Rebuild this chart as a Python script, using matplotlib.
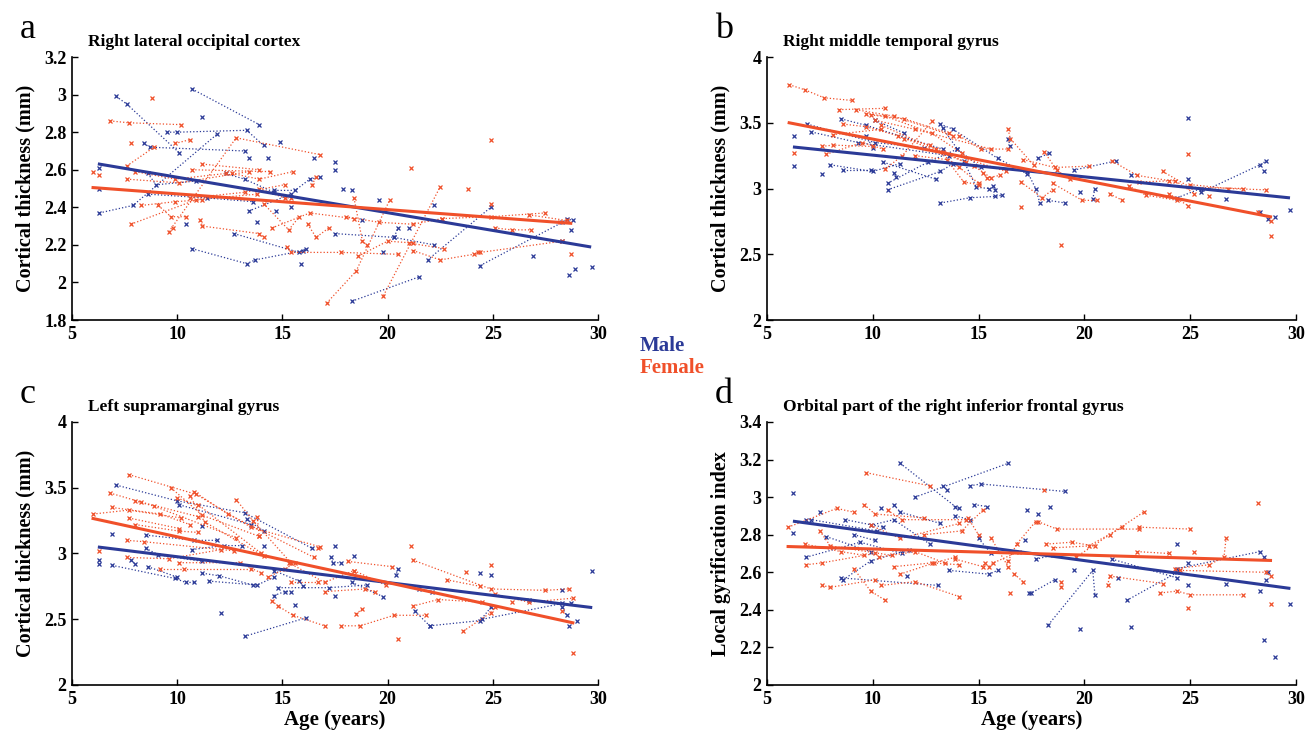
import matplotlib.pyplot as plt

plt.rcParams['font.family'] = ['Liberation Serif', 'DejaVu Serif']
plt.rcParams['font.weight'] = 'bold'

blue = '#2B3A97'
orange = '#F0502A'

# subject trajectories: each inner list is one subject, (age, value) pairs
a_male = [
    [(7.1, 2.99), (7.6, 2.95), (10.1, 2.69)],
    [(10.7, 3.03), (13.9, 2.84)],
    [(9.5, 2.80), (10.0, 2.80), (13.3, 2.81), (14.1, 2.73)],
    [(6.3, 2.37), (7.9, 2.41), (11.9, 2.79)],
    [(8.4, 2.74), (8.7, 2.72), (13.2, 2.70)],
    [(6.3, 2.61)], [(6.3, 2.50)],
    [(10.7, 2.18), (13.3, 2.10), (13.7, 2.12), (16.0, 2.17)],
    [(18.3, 1.90), (21.5, 2.03)],
    [(21.9, 2.12), (24.9, 2.40)],
    [(24.4, 2.09), (28.3, 2.32)],
    [(12.7, 2.26), (15.8, 2.16), (16.1, 2.18)],
    [(17.5, 2.26), (20.3, 2.24), (20.5, 2.29)],
    [(17.5, 2.64)], [(17.5, 2.60)], [(11.2, 2.88)],
    [(13.4, 2.66)], [(14.3, 2.66)], [(14.9, 2.75)], [(16.5, 2.66)],
    [(8.6, 2.58), (9.0, 2.52), (10.9, 2.54)],
    [(8.6, 2.47), (11.4, 2.45), (13.6, 2.43)],
    [(10.4, 2.31)],
    [(13.4, 2.38), (15.4, 2.47)],
    [(14.7, 2.38)], [(15.4, 2.40)], [(13.8, 2.32)], [(15.9, 2.10)],
    [(14.6, 2.49), (15.6, 2.49), (16.3, 2.55), (16.8, 2.56)],
    [(12.3, 2.58), (13.2, 2.55), (14.6, 2.48)],
    [(17.9, 2.50)], [(18.3, 2.49)], [(18.8, 2.33)], [(19.6, 2.44)],
    [(22.2, 2.41)], [(21.0, 2.29)], [(19.8, 2.16)], [(26.9, 2.14)],
    [(28.6, 2.04)], [(28.9, 2.07)], [(29.7, 2.08)], [(28.7, 2.28)],
    [(28.5, 2.34), (28.8, 2.33)], [(28.3, 2.22)],
    [(20.3, 2.24), (22.2, 2.20)],
]
a_female = [
    [(6.8, 2.86), (7.7, 2.85), (10.2, 2.84)],
    [(8.8, 2.98)], [(6.0, 2.59)], [(6.3, 2.57)], [(7.8, 2.74)],
    [(7.6, 2.62), (8.9, 2.72)],
    [(9.6, 2.27), (12.8, 2.77), (16.8, 2.68)],
    [(9.9, 2.74), (10.6, 2.76)],
    [(7.6, 2.55), (10.1, 2.53), (13.4, 2.59)],
    [(8.0, 2.59), (9.9, 2.55), (12.3, 2.58)],
    [(7.8, 2.31), (10.9, 2.44), (13.8, 2.47)],
    [(8.3, 2.41), (9.9, 2.43), (11.2, 2.44)],
    [(9.1, 2.41), (9.7, 2.35), (10.4, 2.35)],
    [(9.8, 2.29)],
    [(10.6, 2.45), (13.2, 2.48), (15.1, 2.52)],
    [(10.7, 2.60), (14.4, 2.59)],
    [(11.1, 2.33), (11.2, 2.30), (13.9, 2.26), (14.1, 2.24)],
    [(11.2, 2.63), (13.9, 2.60)],
    [(12.6, 2.58), (13.9, 2.55), (15.5, 2.59)],
    [(13.9, 2.50), (15.1, 2.45), (15.4, 2.45)],
    [(14.1, 2.42), (15.3, 2.28), (15.8, 2.35)],
    [(15.2, 2.19), (15.4, 2.16), (17.8, 2.16), (20.5, 2.15)],
    [(14.5, 2.29), (16.3, 2.37), (18.4, 2.34)],
    [(16.2, 2.31), (16.6, 2.24), (17.2, 2.29)],
    [(16.4, 2.52), (16.6, 2.56)],
    [(17.1, 1.89), (18.5, 2.06), (20.1, 2.44)],
    [(18.4, 2.45), (18.8, 2.22), (19.0, 2.20)],
    [(18.0, 2.35), (19.6, 2.32), (21.2, 2.31), (22.6, 2.34)],
    [(18.6, 2.14), (20.0, 2.22), (21.2, 2.21)],
    [(19.8, 1.93), (22.5, 2.51)],
    [(21.1, 2.61)],
    [(21.2, 2.17), (22.5, 2.12), (24.1, 2.15), (24.3, 2.16)],
    [(21.0, 2.21), (22.7, 2.18)],
    [(22.6, 2.34), (24.9, 2.35), (27.5, 2.37)],
    [(23.8, 2.50)], [(24.9, 2.76)], [(24.9, 2.42)],
    [(25.1, 2.29), (25.9, 2.28), (26.8, 2.28)],
    [(24.4, 2.16), (28.3, 2.22)],
    [(26.7, 2.36), (28.5, 2.33)],
    [(28.7, 2.15)], [(28.2, 2.32)],
]

b_male = [
    [(6.3, 3.40)], [(6.3, 3.17)],
    [(6.9, 3.49), (10.1, 3.35), (12.4, 3.31)],
    [(7.1, 3.43), (9.3, 3.35), (13.6, 3.25)],
    [(8.5, 3.53), (9.7, 3.48), (13.3, 3.30)],
    [(10.1, 3.52), (11.5, 3.42)],
    [(9.7, 3.40), (10.0, 3.31)],
    [(7.6, 3.11)],
    [(8.0, 3.18), (10.0, 3.13), (11.3, 3.19)],
    [(8.6, 3.14), (9.9, 3.14)],
    [(10.7, 3.04), (12.6, 3.20), (14.0, 3.30)],
    [(10.7, 2.99), (13.2, 3.13), (13.8, 3.19)],
    [(11.0, 3.12), (11.1, 3.09)],
    [(10.5, 3.20), (13.0, 3.07)],
    [(13.2, 2.89), (14.6, 2.93), (15.8, 2.94), (16.1, 2.95)],
    [(13.2, 3.49), (13.8, 3.45), (15.9, 3.23), (17.3, 3.11)],
    [(13.3, 3.46), (14.0, 3.30), (15.1, 3.16)],
    [(14.3, 3.21), (14.9, 3.01), (15.5, 3.00)],
    [(15.7, 3.02), (15.8, 2.99)],
    [(16.4, 3.38), (16.5, 3.32)],
    [(17.3, 3.13), (17.7, 3.00), (17.9, 2.89)],
    [(17.8, 3.23), (18.35, 3.27)],
    [(18.3, 2.91), (19.1, 2.89)],
    [(19.5, 3.14), (21.5, 3.21)],
    [(19.8, 2.97)], [(20.5, 3.00), (20.4, 2.92)],
    [(22.2, 3.10)],
    [(24.9, 3.54)], [(24.9, 3.07)],
    [(24.4, 2.93), (25.5, 3.00)],
    [(26.7, 2.92)],
    [(25.5, 2.97), (28.3, 3.18), (28.6, 3.21)],
    [(28.5, 3.13)],
    [(28.3, 2.82)], [(28.7, 2.77)], [(29.0, 2.78)], [(29.7, 2.84)],
]
b_female = [
    [(6.05, 3.79), (6.8, 3.75), (7.7, 3.69), (9.0, 3.67)],
    [(8.4, 3.60), (10.6, 3.61)],
    [(9.2, 3.60), (11.0, 3.55), (13.8, 3.40)],
    [(6.3, 3.27)],
    [(7.6, 3.32), (8.1, 3.33), (10.0, 3.32)],
    [(7.8, 3.26), (9.5, 3.35), (10.5, 3.30)],
    [(8.1, 3.41), (10.4, 3.45)],
    [(8.6, 3.49), (9.7, 3.47), (11.2, 3.40), (14.4, 3.20)],
    [(9.7, 3.57), (10.6, 3.55), (12.8, 3.42), (14.2, 3.27)],
    [(9.9, 3.56), (11.5, 3.53), (13.6, 3.42)],
    [(10.1, 3.52), (12.0, 3.45), (15.6, 3.30)],
    [(10.4, 3.48), (13.0, 3.30), (16.3, 3.13)],
    [(11.5, 3.38), (12.7, 3.33), (14.1, 3.16), (15.0, 3.04)],
    [(10.6, 3.15), (11.4, 3.25), (12.8, 3.51)],
    [(12.0, 3.25), (13.5, 3.22), (14.3, 3.05), (15.0, 3.03)],
    [(13.3, 3.28), (14.8, 3.17), (15.6, 3.08)],
    [(14.1, 3.40), (15.1, 3.30), (16.4, 3.30)],
    [(16.4, 3.45), (16.5, 3.38), (17.6, 3.18)],
    [(15.2, 3.12), (15.4, 3.08), (16.0, 3.10)],
    [(17.0, 2.86)],
    [(17.0, 3.05), (18.0, 2.93), (18.5, 2.99)],
    [(18.1, 3.28), (18.7, 3.14), (19.3, 3.07)],
    [(17.1, 3.22), (18.6, 3.16), (20.2, 3.17)],
    [(18.9, 2.57)],
    [(18.5, 3.04), (19.9, 2.91), (20.6, 2.91)],
    [(21.2, 2.96), (21.8, 2.91)],
    [(21.3, 3.21), (22.5, 3.10), (24.0, 3.06)],
    [(22.1, 3.02), (22.9, 2.95), (24.4, 2.91)],
    [(22.6, 3.05), (24.3, 3.06), (25.2, 2.96)],
    [(23.7, 3.13), (25.0, 3.01), (27.5, 3.00)],
    [(24.0, 2.96), (24.9, 2.87)],
    [(24.9, 3.26)],
    [(25.0, 3.03), (26.8, 3.00), (28.6, 2.99)],
    [(25.9, 2.94)],
    [(28.2, 2.82)], [(28.8, 2.75)], [(28.8, 2.64)],
]

c_male = [
    [(7.1, 3.52), (10.0, 3.40), (13.2, 3.31), (16.4, 3.04)],
    [(6.9, 3.15)], [(6.3, 2.95)], [(6.3, 2.92)],
    [(6.9, 2.91), (9.9, 2.81), (10.4, 2.78), (10.8, 2.78)],
    [(8.5, 3.14), (10.8, 3.10), (11.9, 3.10)],
    [(8.5, 3.04), (9.1, 2.99), (11.2, 2.94)],
    [(7.8, 2.95), (8.0, 2.92)],
    [(8.6, 2.90), (10.0, 2.82)],
    [(10.1, 3.37), (13.5, 3.22)],
    [(10.7, 3.03), (12.2, 3.06), (13.1, 3.06)],
    [(11.2, 3.21)],
    [(11.2, 2.85), (12.0, 2.83), (13.6, 2.76)],
    [(11.5, 2.79), (13.8, 2.76), (14.6, 2.82)],
    [(12.1, 2.55)],
    [(13.2, 2.37), (16.1, 2.51)],
    [(13.3, 3.26), (14.1, 3.17)],
    [(14.1, 3.06)],
    [(14.6, 2.68), (15.1, 2.71), (15.4, 2.71)],
    [(14.6, 2.87), (15.8, 2.79), (16.0, 2.75)],
    [(15.6, 2.61)],
    [(14.8, 2.74), (17.2, 2.74), (19.0, 2.76)],
    [(17.5, 3.06)],
    [(17.3, 2.97), (17.4, 2.93), (17.8, 2.93)],
    [(18.4, 2.98)], [(17.5, 2.68)],
    [(18.3, 2.78), (19.8, 2.67)],
    [(20.5, 2.88), (20.4, 2.84)],
    [(21.5, 2.73), (22.1, 2.71)],
    [(21.3, 2.56), (22.0, 2.45)],
    [(24.4, 2.85)], [(24.9, 2.84)],
    [(22.0, 2.45), (24.4, 2.49), (24.9, 2.59)],
    [(26.7, 2.65)],
    [(28.3, 2.72)], [(28.3, 2.59), (28.5, 2.53)], [(28.7, 2.62)],
    [(28.6, 2.45)], [(29.0, 2.49)], [(29.7, 2.87)],
    [(24.5, 2.50), (28.3, 2.62)],
]
c_female = [
    [(7.7, 3.60), (10.9, 3.45), (13.5, 3.20), (16.8, 3.05)],
    [(6.0, 3.30), (7.7, 3.33), (10.2, 3.27)],
    [(6.8, 3.46), (8.3, 3.39), (11.0, 3.28)],
    [(6.9, 3.35), (9.2, 3.30), (10.6, 3.22)],
    [(8.0, 3.40), (8.9, 3.36), (12.8, 3.12)],
    [(9.7, 3.50), (11.2, 3.29), (13.9, 3.13)],
    [(10.0, 3.42), (11.0, 3.37), (14.0, 3.00)],
    [(10.8, 3.47), (12.4, 3.30), (16.5, 2.97)],
    [(10.6, 3.44), (11.3, 3.24), (14.1, 2.98)],
    [(12.8, 3.41), (13.6, 3.25), (15.4, 2.93)],
    [(7.7, 3.27), (10.1, 3.19)],
    [(7.6, 3.10), (8.4, 3.09), (12.7, 3.02)],
    [(8.0, 3.22), (10.1, 3.17), (11.0, 3.16)],
    [(6.3, 3.02)],
    [(7.6, 2.97), (9.6, 2.96), (12.1, 3.03)],
    [(9.2, 2.88), (10.3, 2.88), (13.5, 2.88)],
    [(10.1, 2.93), (13.0, 2.93), (14.0, 2.85)],
    [(13.8, 3.28), (13.9, 3.13)],
    [(14.3, 2.82), (15.1, 2.88), (15.6, 2.93)],
    [(14.5, 2.64), (14.8, 2.60), (15.5, 2.53), (17.0, 2.45)],
    [(15.3, 2.93), (17.0, 2.78), (18.4, 2.87)],
    [(15.4, 2.78), (16.7, 2.78)],
    [(16.7, 3.04)],
    [(17.0, 2.71), (18.9, 2.73), (19.4, 2.71)],
    [(18.1, 2.94), (20.2, 2.90)],
    [(17.8, 2.45), (18.7, 2.45), (20.3, 2.53), (21.8, 2.53)],
    [(18.5, 2.54), (18.8, 2.58)],
    [(18.4, 2.87), (19.9, 2.76)],
    [(20.5, 2.35)],
    [(21.1, 3.06)],
    [(21.2, 2.95), (24.9, 2.73), (27.5, 2.72), (28.6, 2.73)],
    [(21.2, 2.60), (22.4, 2.65), (24.5, 2.63)],
    [(22.8, 2.80), (24.4, 2.75)],
    [(23.7, 2.86)], [(24.9, 2.91)],
    [(23.6, 2.41), (24.9, 2.55), (25.1, 2.59)],
    [(25.1, 2.69), (26.7, 2.63), (28.8, 2.66)],
    [(25.9, 2.63)], [(28.3, 2.56)], [(28.8, 2.24)],
]

d_male = [
    [(6.25, 3.02)], [(6.25, 2.81)],
    [(6.85, 2.88), (7.1, 2.88), (10.2, 2.82)],
    [(7.5, 2.92)],
    [(6.85, 2.68), (9.4, 2.76), (11.4, 2.70)],
    [(7.8, 2.79), (9.9, 2.71)],
    [(8.7, 2.88), (10.5, 2.84)],
    [(8.5, 2.57), (13.1, 2.53)],
    [(8.6, 2.56), (9.9, 2.66), (11.7, 2.72)],
    [(9.1, 2.80), (10.1, 2.77)],
    [(9.9, 2.85), (11.0, 2.88), (12.7, 2.75)],
    [(10.4, 2.94)],
    [(11.0, 2.96), (11.3, 2.92), (13.2, 2.86)],
    [(11.3, 3.18), (13.9, 2.95), (14.1, 2.94)],
    [(12.0, 3.00), (16.4, 3.18)],
    [(13.3, 3.06), (13.5, 3.04)],
    [(14.6, 3.06), (15.1, 3.07), (19.1, 3.03)],
    [(14.8, 2.96), (15.4, 2.95)],
    [(13.9, 2.90), (14.6, 2.88)],
    [(11.6, 2.58)],
    [(13.6, 2.61), (15.5, 2.59), (15.9, 2.61)],
    [(15.0, 2.78), (15.6, 2.70)],
    [(17.3, 2.93)], [(17.8, 2.91)], [(18.4, 2.95)],
    [(17.2, 2.77)], [(17.7, 2.67), (18.5, 2.69)],
    [(17.4, 2.49), (17.5, 2.49), (18.6, 2.56)],
    [(18.3, 2.32), (20.4, 2.61), (20.5, 2.48)],
    [(19.8, 2.30)], [(19.5, 2.61)],
    [(21.3, 2.67), (24.4, 2.57)],
    [(21.6, 2.57)],
    [(22.0, 2.45), (24.4, 2.60)],
    [(22.2, 2.31)],
    [(24.4, 2.75)], [(24.9, 2.65)], [(24.9, 2.53)],
    [(26.7, 2.54)],
    [(24.4, 2.62), (28.3, 2.71)],
    [(28.5, 2.68)], [(28.6, 2.56)], [(28.7, 2.60)], [(28.3, 2.50)],
    [(28.5, 2.24)], [(29.0, 2.15)], [(29.7, 2.43)],
]
d_female = [
    [(6.0, 2.84), (8.3, 2.94), (9.1, 2.92)],
    [(6.8, 2.75), (8.5, 2.71), (9.6, 2.69)],
    [(6.85, 2.64), (7.6, 2.65), (10.1, 2.70)],
    [(7.5, 2.82), (8.0, 2.74), (10.9, 2.69)],
    [(7.6, 2.53), (8.0, 2.52), (10.1, 2.56)],
    [(9.6, 2.96), (10.1, 2.91), (12.4, 2.89)],
    [(9.7, 3.13), (12.7, 3.06)],
    [(9.1, 2.62), (9.9, 2.50), (10.6, 2.45)],
    [(10.4, 2.53), (12.0, 2.55), (14.1, 2.47)],
    [(10.7, 2.93), (11.4, 2.88), (14.4, 2.88)],
    [(9.9, 2.85), (11.3, 2.78), (14.1, 2.86)],
    [(11.3, 2.59), (12.9, 2.65), (13.9, 2.68)],
    [(10.3, 2.68), (12.0, 2.71), (13.4, 2.65)],
    [(11.0, 2.63), (12.8, 2.65), (14.1, 2.64)],
    [(12.4, 2.80), (14.2, 2.82), (15.2, 2.93)],
    [(13.9, 2.67), (15.2, 2.63), (15.3, 2.65)],
    [(14.5, 2.89), (15.0, 2.80)],
    [(15.6, 2.78), (16.4, 2.63)],
    [(15.5, 2.63), (15.7, 2.65), (16.9, 2.71)],
    [(16.5, 2.49)],
    [(16.4, 2.66), (16.8, 2.75), (17.7, 2.87)],
    [(16.7, 2.59), (17.1, 2.55)],
    [(17.8, 2.87), (18.7, 2.83), (22.6, 2.83)],
    [(18.1, 3.04)],
    [(18.2, 2.75), (19.4, 2.76), (20.5, 2.74)],
    [(18.5, 2.73), (20.2, 2.74), (21.8, 2.84)],
    [(18.9, 2.55), (18.9, 2.52)],
    [(19.6, 2.68), (21.2, 2.80), (22.8, 2.92)],
    [(21.1, 2.53), (21.2, 2.58), (23.7, 2.54)],
    [(22.5, 2.71), (24.0, 2.70)],
    [(22.6, 2.84), (25.0, 2.83)],
    [(25.2, 2.71)],
    [(23.6, 2.49), (24.4, 2.50), (25.0, 2.48), (27.5, 2.48)],
    [(24.9, 2.41)],
    [(24.3, 2.62), (25.9, 2.64), (26.6, 2.68), (26.7, 2.78)],
    [(28.2, 2.97)],
    [(24.5, 2.61), (28.6, 2.60), (28.8, 2.58)],
    [(28.8, 2.43)],
]

# fitted group lines (age at ends, fitted value at ends)
a_fit_male = ([6.3, 29.6], [2.63, 2.19])
a_fit_female = ([6.0, 28.7], [2.505, 2.315])
b_fit_male = ([6.3, 29.65], [3.315, 2.93])
b_fit_female = ([6.05, 28.8], [3.50, 2.785])
c_fit_male = ([6.3, 29.65], [3.048, 2.59])
c_fit_female = ([6.0, 28.8], [3.266, 2.473])
d_fit_male = ([6.3, 29.67], [2.871, 2.515])
d_fit_female = ([6.0, 28.8], [2.737, 2.663])

panels = [
    ('a', 'Right lateral occipital cortex', 'Cortical thickness (mm)',
     a_male, a_female, a_fit_male, a_fit_female, (1.8, 3.2), [1.8, 2, 2.2, 2.4, 2.6, 2.8, 3, 3.2]),
    ('b', 'Right middle temporal gyrus', 'Cortical thickness (mm)',
     b_male, b_female, b_fit_male, b_fit_female, (2, 4), [2, 2.5, 3, 3.5, 4]),
    ('c', 'Left supramarginal gyrus', 'Cortical thickness (mm)',
     c_male, c_female, c_fit_male, c_fit_female, (2, 4), [2, 2.5, 3, 3.5, 4]),
    ('d', 'Orbital part of the right inferior frontal gyrus', 'Local gyrification index',
     d_male, d_female, d_fit_male, d_fit_female, (2, 3.4), [2, 2.2, 2.4, 2.6, 2.8, 3, 3.2, 3.4]),
]
x_ticks = [5, 10, 15, 20, 25, 30]

positions = [
    [0.0551, 0.5634, 0.4025, 0.3588],
    [0.5868, 0.5634, 0.4047, 0.3588],
    [0.0551, 0.0655, 0.4025, 0.3588],
    [0.5868, 0.0655, 0.4047, 0.3588],
]

fig = plt.figure(figsize=(13.07, 7.33), dpi=100)

for i, (letter, title, ylab, males, females, fm, ff, ylim, yticks) in enumerate(panels):
    ax = fig.add_axes(positions[i])
    for subjects, col in ((males, blue), (females, orange)):
        for subj in subjects:
            ages = [p[0] for p in subj]
            vals = [p[1] for p in subj]
            ax.plot(ages, vals, linestyle=':', linewidth=0.9, color=col,
                    marker='x', markersize=3.4, markeredgewidth=0.9)
    ax.plot(fm[0], fm[1], color=blue, linewidth=2.2)
    ax.plot(ff[0], ff[1], color=orange, linewidth=2.2)

    ax.set_xlim(5, 30)
    ax.set_ylim(*ylim)
    ax.set_xticks(x_ticks)
    ax.set_xticklabels([f'{v:g}' for v in x_ticks])
    ax.set_yticks(yticks)
    ax.set_yticklabels([f'{v:g}' for v in yticks])
    ax.tick_params(direction='in', length=4, width=1, labelsize=13, pad=4)
    for lab in ax.get_xticklabels() + ax.get_yticklabels():
        lab.set_fontweight('bold')
    ax.spines['top'].set_visible(False)
    ax.spines['right'].set_visible(False)
    for s in ('left', 'bottom'):
        ax.spines[s].set_linewidth(1.2)
    ax.set_ylabel(ylab, fontsize=14.5, fontweight='bold', labelpad=6)
    if letter in ('c', 'd'):
        ax.set_xlabel('Age (years)', fontsize=15, fontweight='bold', labelpad=2)

    x0 = positions[i][0]
    top = positions[i][1] + positions[i][3]
    fig.text(x0 - 0.040, top + 0.026, letter, fontsize=26, fontweight='normal',
             ha='left', va='baseline')
    fig.text(x0 + 0.0125, top + 0.021, title, fontsize=12.5, fontweight='bold',
             ha='left', va='center')

fig.text(0.4897, 0.528, 'Male', color=blue, fontsize=15, fontweight='bold',
         ha='left', va='center')
fig.text(0.4897, 0.498, 'Female', color=orange, fontsize=15, fontweight='bold',
         ha='left', va='center')

fig.savefig('out.png', dpi=100)
